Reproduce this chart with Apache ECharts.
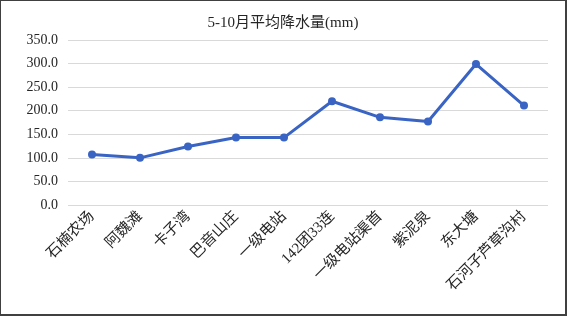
<!DOCTYPE html>
<html>
<head>
<meta charset="utf-8">
<script src="https://cdn.jsdelivr.net/npm/echarts@6/dist/echarts.min.js"></script>
<style>
  html, body { margin: 0; padding: 0; background: #fff; }
  #chart { width: 564px; height: 313px; border: 1px solid #404040; border-right-width: 2px; border-bottom-width: 2px; }
</style>
</head>
<body>
<div id="chart"></div>
<script>
// 站点
const stations = ['石楠农场', '阿魏滩', '卡子湾', '巴音山庄', '一级电站', '142团33连', '一级电站渠首', '紫泥泉', '东大塘', '石河子芦草沟村'];
// 5-10月平均降水量 (mm)
const rainfall = [107, 100, 124, 143, 143, 220, 186, 177, 299, 211];
const yMin = 0, yMax = 350, yStep = 50;

const chart = echarts.init(document.getElementById('chart'));
const font = '"Liberation Serif", "Noto Sans CJK SC", serif';

chart.setOption({
  animation: false,
  title: {
    text: '5-10月平均降水量(mm)',
    left: 'center',
    top: 10,
    textStyle: { fontFamily: font, fontSize: 15, fontWeight: 'normal', color: '#262626' }
  },
  grid: { left: 67, right: 17, top: 39, bottom: 109 },
  xAxis: {
    type: 'category',
    data: stations,
    axisLine: { show: false },
    axisTick: { show: false },
    axisLabel: {
      rotate: 45, interval: 0, margin: 9,
      fontFamily: font, fontSize: 15, color: '#262626'
    }
  },
  yAxis: {
    type: 'value',
    min: yMin, max: yMax, interval: yStep,
    axisLine: { show: false },
    axisTick: { show: false },
    axisLabel: {
      margin: 10,
      fontFamily: font, fontSize: 14, color: '#262626',
      formatter: v => v.toFixed(1)
    },
    splitLine: { lineStyle: { color: '#d9d9d9', width: 1 } }
  },
  series: [{
    type: 'line',
    data: rainfall,
    symbol: 'circle',
    symbolSize: 8,
    lineStyle: { color: '#3a64c4', width: 3 },
    itemStyle: { color: '#3a64c4' }
  }]
});
</script>
</body>
</html>
